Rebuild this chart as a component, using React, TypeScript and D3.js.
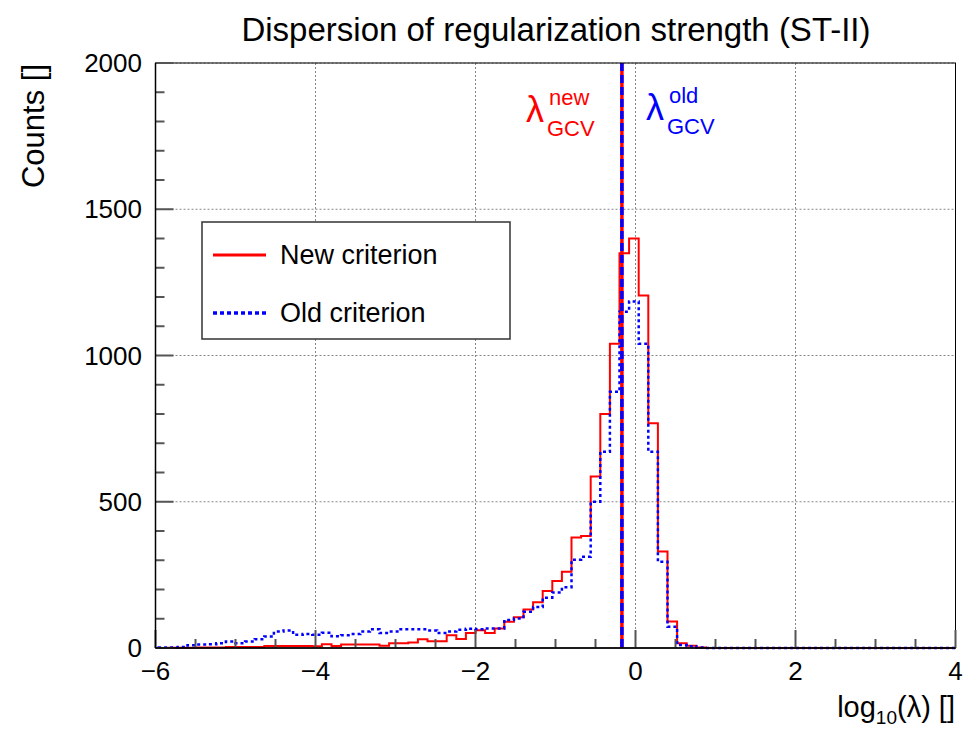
import React from "react";
import * as d3 from "d3";

const binStart = -5.96;
const binWidth = 0.12;
const newCounts = [
  0, 1, 1, 1, 2, 2, 2, 3, 3, 3, 3, 7, 7, 7, 7, 7, 6, 13, 7, 12,
  12, 12, 12, 8, 16, 16, 19, 30, 23, 23, 44, 31, 51, 61, 51, 67, 90, 105, 132, 156,
  195, 229, 261, 378, 383, 586, 800, 1040, 1350, 1400, 1205, 768, 330, 91, 16, 8, 2, 0, 0, 0,
  0, 0, 0, 0, 0, 0, 0, 0, 0, 0, 0, 0, 0, 0, 0, 0, 0, 0, 0, 0,
  0, 0, 0,
];
const oldCounts = [
  2, 2, 3, 9, 12, 13, 16, 22, 16, 22, 30, 39, 56, 60, 45, 48, 45, 52, 40, 44,
  48, 56, 64, 51, 56, 64, 64, 64, 60, 51, 56, 62, 66, 64, 67, 67, 96, 101, 124, 140,
  172, 190, 208, 302, 312, 500, 671, 876, 1150, 1185, 1040, 671, 295, 73, 10, 6, 2, 0, 0, 0,
  0, 0, 0, 0, 0, 0, 0, 0, 0, 0, 0, 0, 0, 0, 0, 0, 0, 0, 0, 0,
  0, 0, 0,
];
const lambdaNew = -0.17;
const lambdaOld = -0.17;
const xTicks = [-6, -4, -2, 0, 2, 4];
const yTicks = [0, 500, 1000, 1500, 2000];
const title = "Dispersion of regularization strength (ST-II)";
const legendLabels = ["New criterion", "Old criterion"];

const FONT = "'Liberation Sans', Arial, Helvetica, sans-serif";

export default function App() {
  const W = 970, H = 733;
  const x = d3.scaleLinear().domain([-6, 4]).range([155.5, 955.5]);
  const y = d3.scaleLinear().domain([0, 2000]).range([648, 63]);

  const histPath = (counts: number[]) => {
    const p = d3.path();
    p.moveTo(x(binStart), y(0));
    counts.forEach((c, i) => {
      const lo = binStart + i * binWidth;
      const hi = lo + binWidth;
      p.lineTo(x(lo), y(c));
      p.lineTo(x(hi), y(c));
    });
    p.lineTo(x(binStart + counts.length * binWidth), y(0));
    return p.toString();
  };

  const xMinor = d3.range(-6, 4.001, 0.5);
  const yMinor = d3.range(0, 2000.1, 100);
  const [x0, x1] = x.range();
  const [y0, y1] = y.range();

  return (
    <svg width={W} height={H} style={{ position: "absolute", left: 0, top: 0, background: "#fff" }}
      fontFamily={FONT}>
      <rect x={0} y={0} width={W} height={H} fill="#fff" />
      {/* grid */}
      {xTicks.map((t) => (
        <line key={"gx" + t} x1={x(t)} x2={x(t)} y1={y1} y2={y0} stroke="#888" strokeWidth={1} strokeDasharray="2,2" />
      ))}
      {yTicks.map((t) => (
        <line key={"gy" + t} x1={x0} x2={x1} y1={y(t)} y2={y(t)} stroke="#888" strokeWidth={1} strokeDasharray="2,2" />
      ))}
      {/* histograms */}
      <path d={histPath(newCounts)} fill="none" stroke="#ff0000" strokeWidth={2} />
      <path d={histPath(oldCounts)} fill="none" stroke="#0000ff" strokeWidth={2.5} strokeDasharray="3,3" />
      {/* vertical lines */}
      <line x1={x(lambdaNew)} x2={x(lambdaNew)} y1={y1} y2={y0} stroke="#ff0000" strokeWidth={3.5} />
      <line x1={x(lambdaOld)} x2={x(lambdaOld)} y1={y1} y2={y0} stroke="#0000ff" strokeWidth={3.5} strokeDasharray="8,4" />
      {/* frame */}
      <rect x={x0} y={y1} width={x1 - x0} height={y0 - y1} fill="none" stroke="#000" strokeWidth={1} />
      {/* ticks */}
      {xMinor.map((t) => {
        const major = Math.abs(t / 2 - Math.round(t / 2)) < 1e-6;
        return <line key={"tx" + t} x1={x(t)} x2={x(t)} y1={y0} y2={y0 - (major ? 18 : 9)} stroke="#555" strokeWidth={2} />;
      })}
      {yMinor.map((t) => {
        const major = t % 500 === 0;
        return <line key={"ty" + t} x1={x0} x2={x0 + (major ? 18 : 9)} y1={y(t)} y2={y(t)} stroke="#555" strokeWidth={2} />;
      })}
      <line x1={x0} x2={x1} y1={y0} y2={y0} stroke="#000" strokeWidth={1.5} />
      <line x1={x0} x2={x0} y1={y0} y2={y1} stroke="#000" strokeWidth={1.5} />
      {/* tick labels */}
      {xTicks.map((t) => (
        <text key={"lx" + t} x={x(t)} y={680} textAnchor="middle" fontSize={26} fill="#000">
          {t < 0 ? "\u2212" + Math.abs(t) : String(t)}
        </text>
      ))}
      {yTicks.map((t) => (
        <text key={"ly" + t} x={142} y={y(t) + 9} textAnchor="end" fontSize={26} fill="#000">
          {t}
        </text>
      ))}
      {/* axis titles */}
      <text transform="translate(44,64) rotate(-90)" textAnchor="end" fontSize={31} fill="#000">Counts []</text>
      <text x={955} y={717} textAnchor="end" fontSize={29} fill="#000">
        log<tspan fontSize={19} dy={7}>10</tspan><tspan dy={-7}>(λ) []</tspan>
      </text>
      {/* title */}
      <text x={556} y={41} textAnchor="middle" fontSize={33} fill="#000">{title}</text>
      {/* lambda annotations */}
      <text x={526} y={122} fontSize={36} fill="#ff0000">λ</text>
      <text x={549} y={105} fontSize={22} fill="#ff0000">new</text>
      <text x={547} y={136} fontSize={22} fill="#ff0000">GCV</text>
      <text x={646} y={120} fontSize={36} fill="#0000ff">λ</text>
      <text x={669} y={103} fontSize={22} fill="#0000ff">old</text>
      <text x={667} y={134} fontSize={22} fill="#0000ff">GCV</text>
      {/* legend */}
      <rect x={202} y={222} width={308} height={117} fill="#fff" stroke="#333" strokeWidth={1.5} />
      <line x1={213} x2={266} y1={255} y2={255} stroke="#ff0000" strokeWidth={3} />
      <text x={280} y={264} fontSize={27} fill="#000">{legendLabels[0]}</text>
      <line x1={213} x2={266} y1={313} y2={313} stroke="#0000ff" strokeWidth={3.5} strokeDasharray="4,3" />
      <text x={280} y={322} fontSize={27} fill="#000">{legendLabels[1]}</text>
    </svg>
  );
}
